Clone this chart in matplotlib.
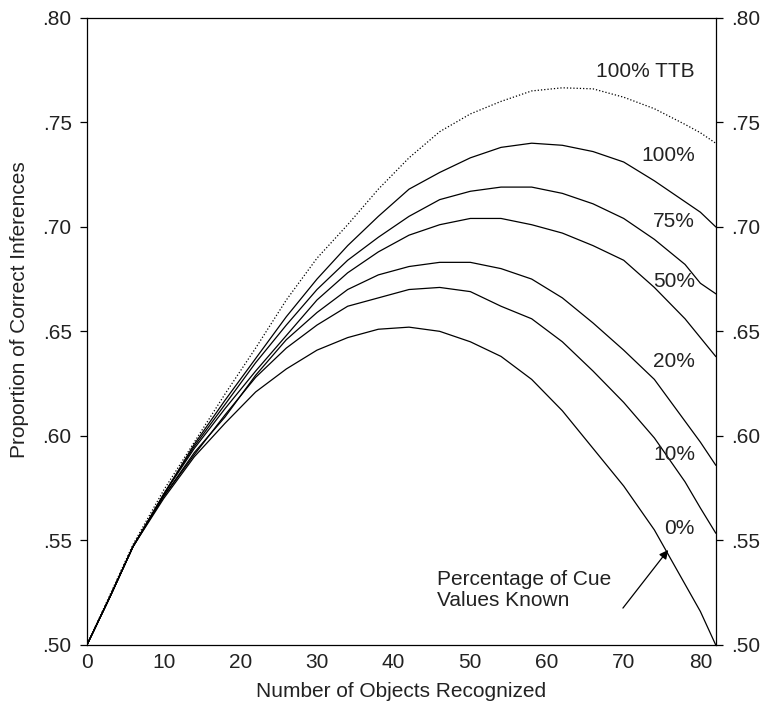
import numpy as np
import matplotlib
matplotlib.use('Agg')
import matplotlib.pyplot as plt
from matplotlib.ticker import FuncFormatter

plt.rcParams['font.family'] = ['Liberation Sans', 'DejaVu Sans']

# number of objects recognized
x = [0, 3, 6, 10, 14, 18, 22, 26, 30, 34, 38, 42, 46, 50, 54, 58, 62, 66, 70, 74, 78, 80, 82]

# proportion correct, by percentage of cue values known
p0 = [.500, .523, .547, .570, .590, .606, .621, .632, .641, .647, .651, .652, .650, .645, .638, .627, .612, .594, .576, .555, .529, .516, .500]
p10 = [.500, .523, .547, .571, .591, .610, .628, .642, .653, .662, .666, .670, .671, .669, .662, .656, .645, .631, .616, .599, .578, .5655, .5535]
p20 = [.500, .523, .547, .571, .592, .609, .629, .646, .659, .670, .677, .681, .683, .683, .680, .675, .666, .654, .641, .627, .607, .597, .586]
p50 = [.500, .523, .547, .572, .594, .613, .631, .648, .665, .678, .688, .696, .701, .704, .704, .701, .697, .691, .684, .671, .656, .647, .638]
p75 = [.500, .523, .547, .572, .595, .615, .635, .653, .670, .684, .695, .705, .713, .717, .719, .719, .716, .711, .704, .694, .682, .673, .668]
p100 = [.500, .523, .547, .572, .596, .617, .637, .657, .675, .691, .705, .718, .726, .733, .738, .740, .739, .736, .731, .722, .712, .707, .700]
ttb = [.500, .524, .548, .574, .597, .620, .642, .665, .685, .701, .718, .733, .7455, .754, .760, .765, .7665, .766, .762, .7565, .749, .745, .740]

curves = [p0, p10, p20, p50, p75, p100]
labels = ['0%', '10%', '20%', '50%', '75%', '100%']
label_y = [.5555, .5909, .6355, .6738, .7024, .7343]

txt = '#222222'
fs = 15

fig = plt.figure(figsize=(7.63, 7.11), dpi=100)
ax = fig.add_axes([0.114, 0.093, 0.824, 0.882])

for yv in curves:
    ax.plot(x, yv, color='black', lw=0.9)
ax.plot(x, ttb, color='black', lw=0.9, linestyle=(0, (1, 1.6)))

for lab, ly in zip(labels, label_y):
    ax.text(79.3, ly, lab, ha='right', va='center', fontsize=fs, color=txt)
ax.text(79.3, .7745, '100% TTB', ha='right', va='center', fontsize=fs, color=txt)

# annotation text and arrow pointing at the 0% curve
ax.text(45.6, .5263, 'Percentage of Cue\nValues Known', ha='left', va='center',
        fontsize=fs, color=txt, linespacing=1.15)
ax.annotate('', xy=(75.8, .5454), xytext=(69.9, .5176),
            arrowprops=dict(arrowstyle='-|>', color='black', lw=0.9,
                            mutation_scale=13, shrinkA=0, shrinkB=0))

ax.set_xlim(0, 82)
ax.set_ylim(0.50, 0.80)
ax.set_xticks(range(0, 81, 10))
ax.set_yticks(np.arange(0.50, 0.801, 0.05))
fmt = FuncFormatter(lambda v, pos: ('%.2f' % v).lstrip('0'))
ax.yaxis.set_major_formatter(fmt)
ax.tick_params(axis='x', length=0, labelsize=fs, labelcolor=txt, pad=6)
ax.tick_params(axis='y', direction='out', length=5, width=0.9, labelsize=fs,
               labelcolor=txt, left=True, right=True, labelleft=True,
               labelright=True, pad=6)
for s in ax.spines.values():
    s.set_linewidth(0.9)

ax.set_xlabel('Number of Objects Recognized', fontsize=fs, color=txt, labelpad=7)
fig.text(0.026, 0.564, 'Proportion of Correct Inferences', rotation=90,
         ha='center', va='center', fontsize=fs, color=txt)

fig.savefig('out.png', dpi=100)
